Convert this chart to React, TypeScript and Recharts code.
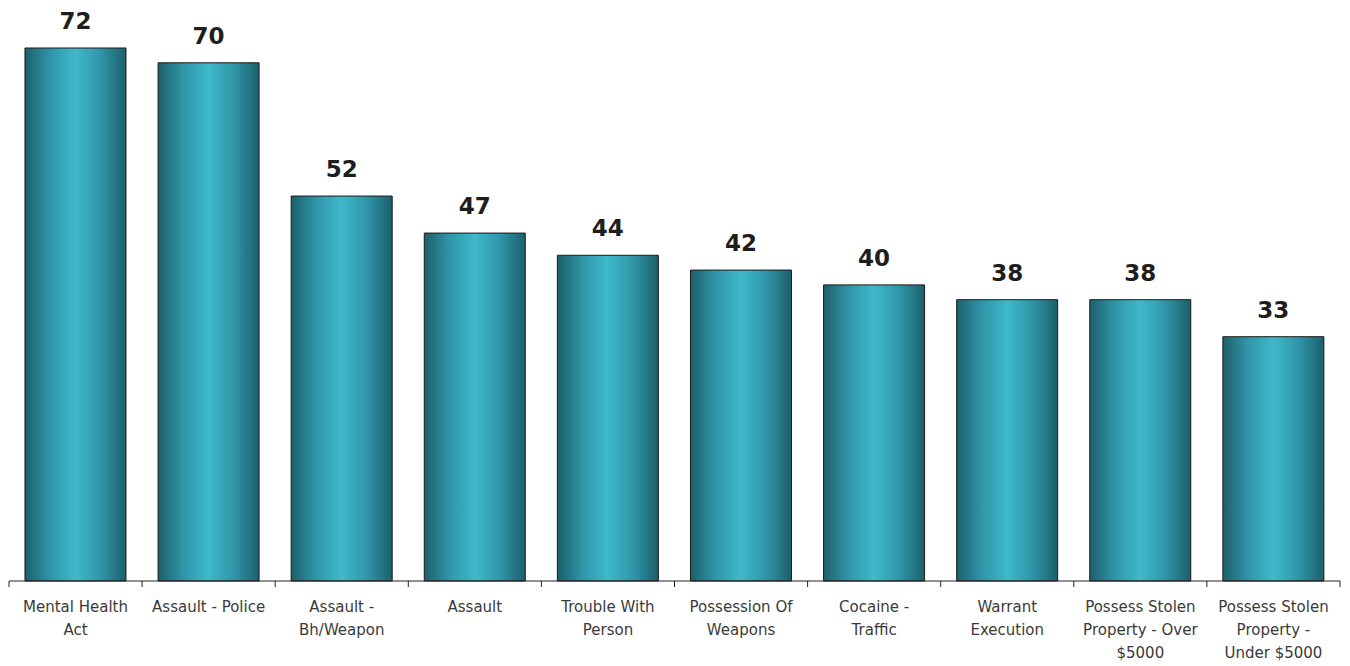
import { BarChart, Bar, XAxis, YAxis, LabelList } from "recharts";

const categories = [
  "Mental Health Act",
  "Assault - Police",
  "Assault - Bh/Weapon",
  "Assault",
  "Trouble With Person",
  "Possession Of Weapons",
  "Cocaine - Traffic",
  "Warrant Execution",
  "Possess Stolen Property - Over $5000",
  "Possess Stolen Property - Under $5000",
];

const tickLines: string[][] = [
  ["Mental Health", "Act"],
  ["Assault - Police"],
  ["Assault -", "Bh/Weapon"],
  ["Assault"],
  ["Trouble With", "Person"],
  ["Possession Of", "Weapons"],
  ["Cocaine -", "Traffic"],
  ["Warrant", "Execution"],
  ["Possess Stolen", "Property - Over", "$5000"],
  ["Possess Stolen", "Property -", "Under $5000"],
];

const counts = [72, 70, 52, 47, 44, 42, 40, 38, 38, 33];

const data = categories.map((name, i) => ({ name, count: counts[i] }));

// ticks sit on the boundaries between categories, like the Excel original
const WrappedTick = ({ x, y, payload, index, width }: any) => {
  const lines = tickLines[index] ?? [payload.value];
  const step = (width ?? 1331) / categories.length;
  const top = y - 8;
  return (
    <g>
      <line x1={x - step / 2} x2={x - step / 2} y1={top} y2={top + 6} stroke="#222" />
      {index === categories.length - 1 && (
        <line x1={x + step / 2} x2={x + step / 2} y1={top} y2={top + 6} stroke="#222" />
      )}
      <text x={x} y={top} textAnchor="middle" fill="#3a3a3a" fontSize={15} fontFamily="DejaVu Sans">
        {lines.map((l: string, i: number) => (
          <tspan key={i} x={x} dy={i === 0 ? 31 : 23}>
            {l}
          </tspan>
        ))}
      </text>
    </g>
  );
};

export default function App() {
  return (
    <BarChart
      width={1342}
      height={658}
      data={data}
      margin={{ top: 40, right: 10, left: 1, bottom: 25 }}
      barCategoryGap="12%"
    >
      <defs>
        <linearGradient id="tealBar" x1="0" y1="0" x2="1" y2="0">
          <stop offset="0%" stopColor="#1d5f6c" />
          <stop offset="25%" stopColor="#2f96a8" />
          <stop offset="50%" stopColor="#40b8cb" />
          <stop offset="75%" stopColor="#2f96a8" />
          <stop offset="100%" stopColor="#1d5f6c" />
        </linearGradient>
      </defs>
      <XAxis
        dataKey="name"
        interval={0}
        height={60}
        tick={<WrappedTick />}
        tickLine={false}
        axisLine={{ stroke: "#222" }}
      />
      <YAxis hide domain={[0, 72]} />
      <Bar dataKey="count" fill="url(#tealBar)" stroke="#1a1a1a" strokeWidth={1} isAnimationActive={false}>
        <LabelList
          dataKey="count"
          position="top"
          offset={19}
          fill="#1e1e1e"
          fontSize={23}
          fontWeight="bold"
          fontFamily="DejaVu Sans"
        />
      </Bar>
    </BarChart>
  );
}
